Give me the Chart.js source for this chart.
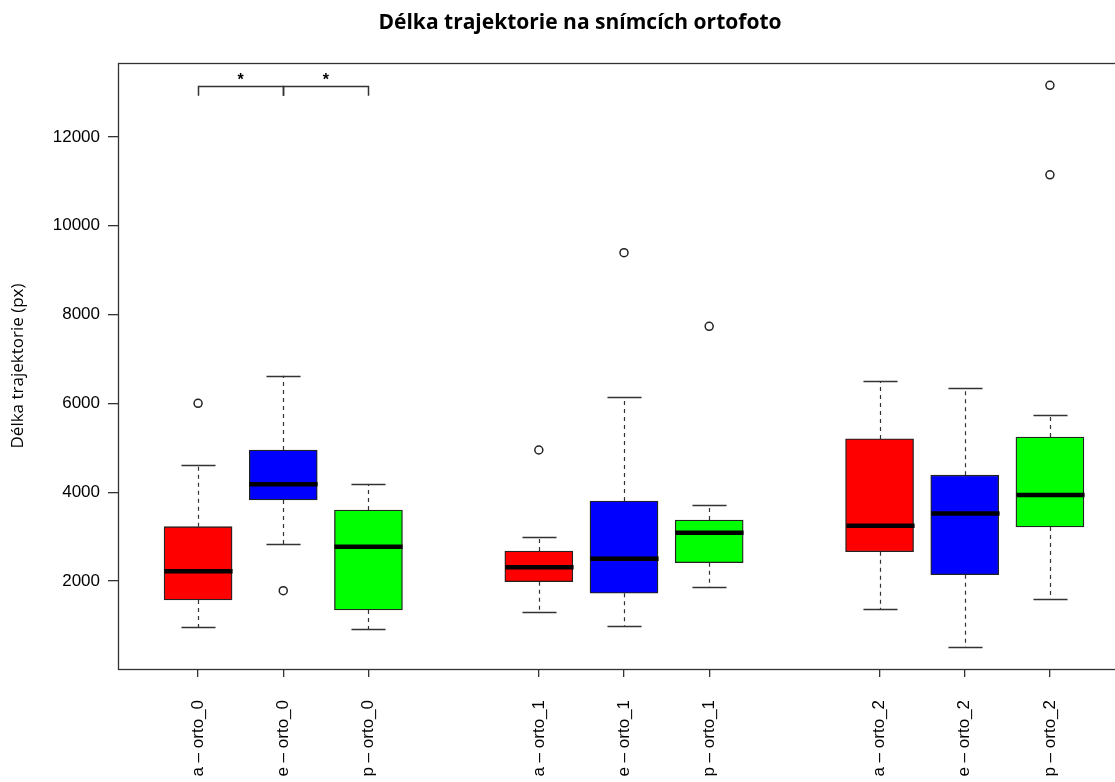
<!DOCTYPE html>
<html>
<head>
<meta charset="utf-8">
<title>Délka trajektorie na snímcích ortofoto</title>
<script src="https://cdn.jsdelivr.net/npm/chart.js@4"></script>
<style>
    html, body { margin: 0; padding: 0; background: #fff; overflow: hidden; }
    #obal { width: 1140px; height: 782px; }
</style>
</head>
<body>
<div id="obal"><canvas id="grafTrajektorie"></canvas></div>
<script>
// hodnoty
const skupiny = ['a – orto_0', 'e – orto_0', 'p – orto_0', 'a – orto_1', 'e – orto_1', 'p – orto_1', 'a – orto_2', 'e – orto_2', 'p – orto_2'];
const pozice = [1, 2, 3, 5, 6, 7, 9, 10, 11];
const dolniVous = [957, 2833, 919, 1309, 987, 1857, 1365, 505, 1600];
const kvartil1 = [1572, 3824, 1347, 1984, 1723, 2413, 2658, 2141, 3218];
const median = [2218, 4178, 2773, 2308, 2503, 3088, 3243, 3521, 3936];
const kvartil3 = [3223, 4950, 3599, 2676, 3802, 3374, 5200, 4383, 5243];
const horniVous = [4612, 6623, 4184, 2998, 6137, 3705, 6493, 6338, 5743];
const odlehleX = [1, 2, 5, 6, 7, 11, 11];
const odlehleY = [6002, 1782, 4950, 9393, 7735, 13162, 11148];
const barvy = ['#FF0000', '#0000FF', '#00FF00', '#FF0000', '#0000FF', '#00FF00', '#FF0000', '#0000FF', '#00FF00'];
const yTicks = [2000, 4000, 6000, 8000, 10000, 12000];
const vyznamnost = [[1, 2], [2, 3]];
const vyznamnostY = 13150;

const kresliVousy = {
    id: 'kresliVousy',
    beforeDraw(chart) {
        const ctx = chart.ctx;
        const a = chart.chartArea;
        ctx.save();
        ctx.strokeStyle = '#333';
        ctx.lineWidth = 1.3;
        ctx.strokeRect(Math.round(a.left) + 0.5, Math.round(a.top) + 0.5, a.right - a.left, a.bottom - a.top);
        ctx.restore();
    },
    afterDatasetsDraw(chart) {
        const ctx = chart.ctx;
        const x = chart.scales.x;
        const y = chart.scales.y;
        const pulBox = x.getPixelForValue(0.4) - x.getPixelForValue(0);
        const pulCap = x.getPixelForValue(0.2) - x.getPixelForValue(0);
        ctx.save();
        pozice.forEach((p, i) => {
            const px = Math.round(x.getPixelForValue(p)) + 0.5;
            ctx.strokeStyle = '#333';
            ctx.lineWidth = 1.2;
            ctx.setLineDash([4, 4]);
            ctx.beginPath();
            ctx.moveTo(px, y.getPixelForValue(kvartil3[i]));
            ctx.lineTo(px, y.getPixelForValue(horniVous[i]));
            ctx.moveTo(px, y.getPixelForValue(kvartil1[i]));
            ctx.lineTo(px, y.getPixelForValue(dolniVous[i]));
            ctx.stroke();
            ctx.setLineDash([]);
            ctx.lineWidth = 1.5;
            ctx.beginPath();
            [horniVous[i], dolniVous[i]].forEach(v => {
                const py = Math.round(y.getPixelForValue(v)) + 0.5;
                ctx.moveTo(px - pulCap, py);
                ctx.lineTo(px + pulCap, py);
            });
            ctx.stroke();
            ctx.strokeStyle = '#000';
            ctx.lineWidth = 4.5;
            ctx.beginPath();
            ctx.moveTo(px - pulBox, y.getPixelForValue(median[i]));
            ctx.lineTo(px + pulBox, y.getPixelForValue(median[i]));
            ctx.stroke();
        });

        // zavorky vyznamnosti
        ctx.strokeStyle = '#333';
        ctx.lineWidth = 1.5;
        ctx.fillStyle = '#000';
        ctx.font = 'bold 16px "Liberation Sans"';
        ctx.textAlign = 'center';
        ctx.textBaseline = 'middle';
        vyznamnost.forEach(([z, k]) => {
            const x1 = Math.round(x.getPixelForValue(z)) + 0.5;
            const x2 = Math.round(x.getPixelForValue(k)) + 0.5;
            const yh = Math.round(y.getPixelForValue(vyznamnostY)) + 0.5;
            const yd = y.getPixelForValue(vyznamnostY - 220);
            ctx.beginPath();
            ctx.moveTo(x1, yd);
            ctx.lineTo(x1, yh);
            ctx.lineTo(x2, yh);
            ctx.lineTo(x2, yd);
            ctx.stroke();
            ctx.fillText('*', x.getPixelForValue((z + k) / 2), y.getPixelForValue(vyznamnostY + 130));
        });
        ctx.restore();
    }
};

const fontOsa = { family: '"Liberation Sans", Arial, sans-serif', size: 17 };

new Chart(document.getElementById('grafTrajektorie'), {
    type: 'bar',
    data: {
        datasets: [{
            type: 'bar',
            data: pozice.map((p, i) => ({ x: p, y: [kvartil1[i], kvartil3[i]] })),
            backgroundColor: barvy,
            borderColor: '#222',
            borderWidth: 1.3,
            borderSkipped: false,
            barThickness: 68
        }, {
            type: 'scatter',
            data: odlehleX.map((p, i) => ({ x: p, y: odlehleY[i] })),
            pointRadius: 4,
            pointBackgroundColor: 'rgba(0,0,0,0)',
            pointBorderColor: '#222',
            pointBorderWidth: 1.5
        }]
    },
    options: {
        responsive: true,
        maintainAspectRatio: false,
        devicePixelRatio: 1,
        animation: false,
        layout: { padding: { left: 30, right: 10, top: 0, bottom: 0 } },
        plugins: {
            legend: { display: false },
            tooltip: { enabled: false },
            title: {
                display: true,
                text: 'Délka trajektorie na snímcích ortofoto',
                color: '#000',
                font: { family: '"Open Sans", sans-serif', size: 21, weight: 'bold', lineHeight: 1.2 },
                padding: { top: 10, bottom: 27.8 }
            }
        },
        scales: {
            x: {
                type: 'linear',
                min: 0.06,
                max: 11.94,
                offset: false,
                afterBuildTicks: s => { s.ticks = pozice.map(v => ({ value: v })); },
                afterFit: s => { s.height = 113; },
                ticks: {
                    autoSkip: false,
                    maxRotation: 90,
                    minRotation: 90,
                    padding: 23,
                    color: '#000',
                    font: fontOsa,
                    callback: (v, i) => skupiny[i]
                },
                grid: { drawOnChartArea: false, drawTicks: true, tickLength: 8, color: '#333', lineWidth: 1.3, offset: false },
                border: { display: false }
            },
            y: {
                min: 18,
                max: 13665,
                afterBuildTicks: s => { s.ticks = yTicks.map(v => ({ value: v })); },
                afterFit: s => { s.width = 88; },
                ticks: { padding: 8, color: '#000', font: fontOsa, callback: v => String(v) },
                grid: { drawOnChartArea: false, drawTicks: true, tickLength: 10, color: '#333', lineWidth: 1.3 },
                border: { display: false },
                title: {
                    display: true,
                    text: 'Délka trajektorie (px)',
                    color: '#000',
                    font: { family: '"Open Sans", sans-serif', size: 17 },
                    padding: { top: -22, bottom: 0 }
                }
            }
        }
    },
    plugins: [kresliVousy]
});
</script>
</body>
</html>
